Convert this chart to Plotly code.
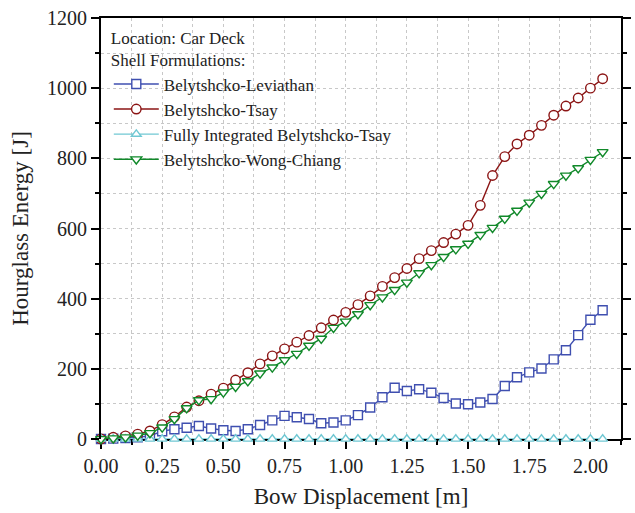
import plotly.graph_objects as go

# Bow displacement [m] at marker positions
disp = [0.00, 0.05, 0.10, 0.15, 0.20, 0.25, 0.30, 0.35, 0.40, 0.45,
        0.50, 0.55, 0.60, 0.65, 0.70, 0.75, 0.80, 0.85, 0.90, 0.95,
        1.00, 1.05, 1.10, 1.15, 1.20, 1.25, 1.30, 1.35, 1.40, 1.45,
        1.50, 1.55, 1.60, 1.65, 1.70, 1.75, 1.80, 1.85, 1.90, 1.95,
        2.00, 2.05]

# Hourglass energy [J]
leviathan = [0, 1, 3, 5, 9, 22, 28, 32, 37, 30,
             25, 23, 28, 40, 53, 66, 62, 57, 45, 47,
             53, 68, 90, 119, 146, 137, 142, 132, 117, 101,
             99, 104, 114, 151, 176, 190, 201, 227, 253, 296,
             340, 367]
tsay = [0, 5, 9, 14, 23, 41, 63, 91, 109, 128,
        145, 168, 189, 214, 237, 257, 276, 295, 317, 339,
        361, 383, 408, 435, 460, 486, 514, 537, 560, 584,
        609, 666, 751, 805, 841, 866, 894, 923, 949, 972,
        1000, 1027]
fully_integrated = [0, 0, 0, 0, 0, 0, 0, 0, 0, 0,
                    0, 0, 0, 0, 0, 0, 0, 0, 0, 0,
                    0, 0, 0, 0, 0, 0, 0, 0, 0, 0,
                    0, 0, 0, 0, 0, 0, 0, 0, 0, 0,
                    0, 0]
wong_chiang = [0, 2, 5, 10, 17, 33, 57, 88, 111, 114,
               133, 149, 165, 187, 204, 225, 243, 266, 286, 317,
               335, 356, 382, 404, 425, 446, 473, 496, 519, 541,
               557, 582, 602, 628, 651, 674, 699, 727, 751, 772,
               796, 818]

series_names = ["Belytshcko-Leviathan", "Belytshcko-Tsay",
                "Fully Integrated Belytshcko-Tsay", "Belytshcko-Wong-Chiang"]
legend_title = "Location: Car Deck<br>Shell Formulations:"
x_title = "Bow Displacement [m]"
y_title = "Hourglass Energy [J]"

FONT = "Liberation Serif"

styles = [
    dict(color="#3F4FB0", symbol="square", size=9),
    dict(color="#8B1414", symbol="circle", size=9.5),
    dict(color="#70C8D3", symbol="triangle-up", size=8.5),
    dict(color="#11892A", symbol="triangle-down", size=9.5),
]
data = [leviathan, tsay, fully_integrated, wong_chiang]

fig = go.Figure()
for name, ys, st in zip(series_names, data, styles):
    fig.add_trace(go.Scatter(
        x=disp, y=ys, name=name, mode="lines+markers", cliponaxis=False,
        line=dict(color=st["color"], width=1.4),
        marker=dict(symbol=st["symbol"], size=st["size"], color="white",
                    line=dict(color=st["color"], width=1.4)),
    ))

grid = dict(showgrid=True, gridcolor="#c8c8c8", gridwidth=1, griddash="dot")

fig.update_layout(
    width=635, height=513,
    margin=dict(l=101, r=4, t=18, b=74),
    paper_bgcolor="white", plot_bgcolor="white",
    font=dict(family=FONT, color="#222"),
    showlegend=True,
    legend=dict(
        title=dict(text=legend_title, font=dict(family=FONT, size=17, color="#222")),
        font=dict(family=FONT, size=17, color="#222"),
        x=0.015, y=0.99, xanchor="left", yanchor="top",
        bgcolor="rgba(255,255,255,0)", borderwidth=0,
        itemwidth=45, tracegroupgap=0,
    ),
    xaxis=dict(
        range=[0, 2.125], tick0=0, dtick=0.25, tickformat=".2f",
        showline=True, linecolor="black", linewidth=1.5, mirror=True,
        layer="below traces",
        ticks="outside", ticklen=8, tickwidth=1.5, tickcolor="black",
        tickfont=dict(family=FONT, size=20, color="#222"),
        title=dict(text=x_title, font=dict(family=FONT, size=23, color="#222"), standoff=12),
        zeroline=False,
        minor=dict(dtick=0.125, ticks="outside", ticklen=4, tickwidth=1.5,
                   tickcolor="black", **grid),
        **grid,
    ),
    yaxis=dict(
        range=[0, 1200], tick0=0, dtick=200,
        showline=True, linecolor="black", linewidth=1.8, mirror="ticks",
        ticks="outside", ticklen=8, tickwidth=1.5, tickcolor="black",
        tickfont=dict(family=FONT, size=20, color="#222"),
        title=dict(text=y_title, font=dict(family=FONT, size=23, color="#222"), standoff=12),
        zeroline=False,
        minor=dict(dtick=100, ticks="outside", ticklen=4, tickwidth=1.5,
                   tickcolor="black", **grid),
        **grid,
    ),
)

fig.write_html("out.html")
